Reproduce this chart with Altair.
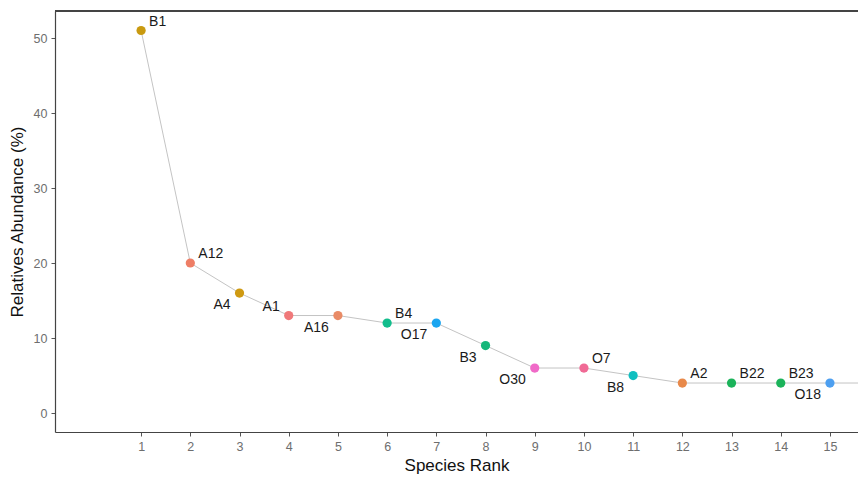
import altair as alt
import pandas as pd

# ---- data ----
ranks = [1, 2, 3, 4, 5, 6, 7, 8, 9, 10, 11, 12, 13, 14, 15]
abundance = [51, 20, 16, 13, 13, 12, 12, 9, 6, 6, 5, 4, 4, 4, 4]
species = ["B1", "A12", "A4", "A1", "A16", "B4", "O17", "B3", "O30", "O7",
           "B8", "A2", "B22", "B23", "O18"]
# line continues past the visible right edge
tail_ranks = [16]
tail_abundance = [4]

# ---- styling (not data) ----
point_colors = ["#C99A10", "#EE7E66", "#CF9A12", "#F0797A", "#E98B66", "#12BD8C",
                "#1AA5F0", "#16B77A", "#F06AC8", "#F06A95", "#10BFC0", "#E8894A",
                "#1BB35A", "#1BB35A", "#4D9FF0"]
placement = ["ur", "ur", "bl", "ul", "bl", "ur", "bl", "bl", "bl", "ur",
             "bl", "ur", "ur", "ur", "bl"]

df = pd.DataFrame({"rank": ranks, "abund": abundance, "sp": species,
                   "place": placement})
line_df = pd.DataFrame({"rank": ranks + tail_ranks,
                        "abund": abundance + tail_abundance})

W, H = 803, 421
FONT = "Liberation Sans"

xscale = alt.Scale(domain=[-0.75, 15.57], nice=False, zero=False)
yscale = alt.Scale(domain=[-2.53, 53.6], nice=False, zero=False)

xenc = alt.X("rank:Q", scale=xscale,
             axis=alt.Axis(title="Species Rank", values=ranks, grid=False,
                           tickSize=4, labelPadding=4, titlePadding=5,
                           labelFontSize=12.5, titleFontSize=17,
                           labelColor="#6e6e6e", tickColor="#555555",
                           domainColor="#444444", domainWidth=1.2,
                           titleColor="#111111", titleFontWeight="normal",
                           labelFont=FONT, titleFont=FONT, format="d"))
yenc = alt.Y("abund:Q", scale=yscale,
             axis=alt.Axis(title="Relatives Abundance (%)",
                           values=[0, 10, 20, 30, 40, 50], grid=False,
                           tickSize=4, labelPadding=4, titlePadding=7,
                           labelFontSize=12.5, titleFontSize=17,
                           labelColor="#6e6e6e", tickColor="#555555",
                           domainColor="#444444", domainWidth=1.2,
                           titleColor="#111111", titleFontWeight="normal",
                           labelFont=FONT, titleFont=FONT))

line = alt.Chart(line_df).mark_line(color="#C4C4C4", strokeWidth=1, clip=True).encode(
    x=xenc, y=yenc)

points = alt.Chart(df).mark_circle(size=85, opacity=1, clip=True).encode(
    x="rank:Q", y="abund:Q",
    color=alt.Color("sp:N", scale=alt.Scale(domain=species, range=point_colors),
                    legend=None))

def labels(where, align, dx, dy):
    return alt.Chart(df).transform_filter(
        alt.datum.place == where
    ).mark_text(align=align, baseline="middle", dx=dx, dy=dy, fontSize=14,
                font=FONT, color="#1a1a1a", clip=True).encode(
        x="rank:Q", y="abund:Q", text="sp:N")

top_border = alt.Chart(df).mark_rule(color="#444444", strokeWidth=1.2).encode(
    x=alt.value(0), x2=alt.value(W), y=alt.value(0))

chart = alt.layer(
    line, points,
    labels("ur", "left", 8, -9),
    labels("bl", "right", -9, 12),
    labels("ul", "right", -9, -9),
    top_border,
).properties(
    width=W, height=H,
    autosize=alt.AutoSizeParams(type="none"),
    padding={"left": 55, "top": 11, "right": 0, "bottom": 46},
    background="white",
).configure_view(stroke=None)

chart.save("out.html", embed_options={"renderer": "svg", "actions": False})
